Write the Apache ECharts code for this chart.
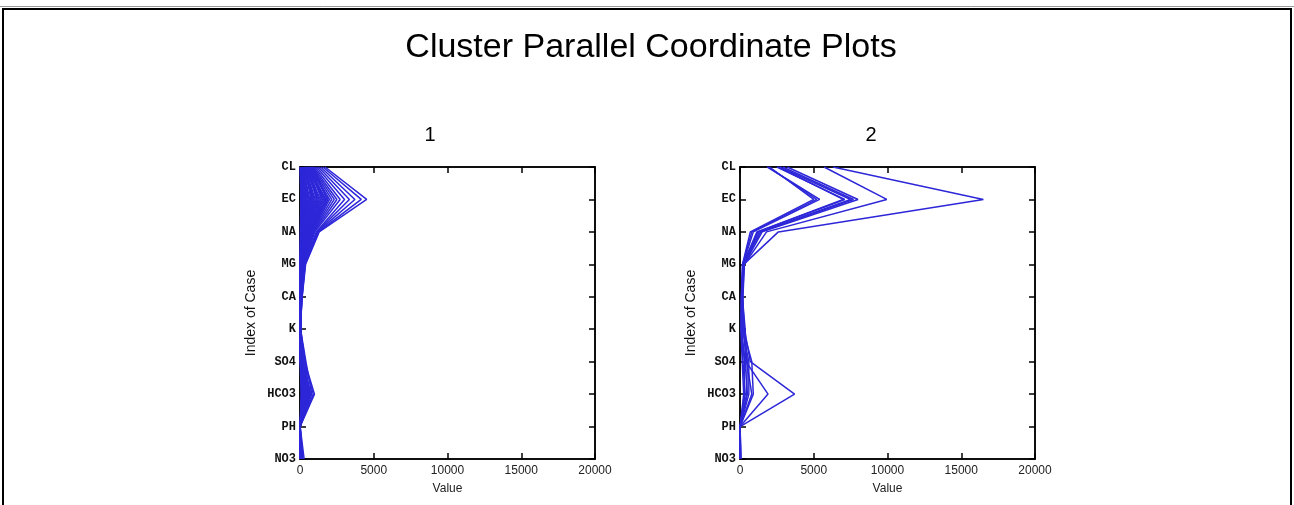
<!DOCTYPE html>
<html>
<head>
<meta charset="utf-8">
<script src="https://cdn.jsdelivr.net/npm/echarts@6/dist/echarts.min.js"></script>
<style>
html,body{margin:0;padding:0;background:#fff;}
#chart{width:1294px;height:505px;}
</style>
</head>
<body>
<div id="chart"></div>
<script>
// Variables (axis categories, top to bottom)
const variables = ['CL','EC','NA','MG','CA','K','SO4','HCO3','PH','NO3'];
const xTicks = [0, 5000, 10000, 15000, 20000];

// Cluster 1: one array per variable, one entry per case
const c1_CL   = [1700,1550,1400,1250,1120,1000,900,820,760,700,650,900,600,560,540,500,800,450,420,400,380,650,330,300,280,260,240,500,200,180,160,140,120,100,90,70,60,50,40,30,20,15];
const c1_EC   = [4520,4150,3720,3350,3020,2720,2500,2320,2150,2000,1900,1820,1750,1680,1600,1520,1450,1380,1300,1230,1160,1100,1030,960,900,840,780,720,660,600,540,480,420,370,320,270,220,180,140,110,80,60];
const c1_NA   = [1300,1250,1200,1150,1100,1000,950,900,860,820,780,750,720,680,650,620,600,560,530,500,480,450,420,400,380,350,320,300,280,250,220,200,180,160,140,120,100,80,60,50,40,30];
const c1_MG   = [380,350,330,300,280,260,250,240,230,220,210,200,190,180,170,160,150,140,130,120,115,110,100,95,90,85,80,75,70,65,60,55,50,45,40,35,30,25,20,15,12,10];
const c1_CA   = [150,140,130,120,110,100,95,90,85,80,75,70,68,65,60,58,55,52,50,48,45,42,40,38,35,32,30,28,25,22,20,18,16,14,12,10,9,8,7,6,5,4];
const c1_K    = [12,20,8,35,15,25,10,40,18,30,22,9,14,50,11,16,27,7,33,13,19,24,6,45,10,17,21,8,12,28,5,15,9,11,20,6,14,7,10,4,8,3];
const c1_SO4  = [250,320,180,400,210,150,280,120,350,190,90,260,140,300,110,220,170,80,240,130,200,60,160,100,270,70,190,120,50,150,90,40,110,60,130,30,80,45,20,60,25,15];
const c1_HCO3 = [650,980,520,800,700,450,900,600,550,750,400,680,500,620,350,580,480,720,300,530,440,600,380,250,500,420,330,460,280,200,390,350,240,310,180,270,150,220,120,100,160,80];
const c1_PH   = [7.2,7.5,7.8,7.1,7.4,7.6,7.0,7.3,7.9,7.2,7.5,7.7,7.1,7.4,7.6,7.3,7.8,7.0,7.2,7.5,7.4,7.6,7.1,7.3,7.9,7.2,7.5,7.7,7.1,7.4,7.6,7.3,7.8,7.0,7.2,7.5,7.4,7.6,7.1,7.3,7.9,7.2];
const c1_NO3  = [20,50,10,120,35,5,80,15,200,40,8,60,25,150,12,30,90,18,45,6,70,22,10,280,14,55,9,33,100,4,40,16,65,11,27,7,50,19,3,38,12,8];

// Cluster 2
const c2_CL   = [6300,5700,3200,2900,2700,2500,2600,1850,1900,2000];
const c2_EC   = [16500,9950,8000,7700,7500,7100,7000,5400,5200,5000];
const c2_NA   = [2600,1800,1500,1400,1300,1200,1150,900,800,700];
const c2_MG   = [250,300,280,260,240,220,200,200,180,170];
const c2_CA   = [150,200,180,160,140,120,130,110,100,90];
const c2_K    = [300,250,200,350,150,100,250,120,80,60];
const c2_SO4  = [700,400,800,450,600,350,500,200,300,150];
const c2_HCO3 = [3700,1900,900,800,600,500,450,350,300,250];
const c2_PH   = [7.2,7.5,7.1,7.8,7.3,7.4,7.6,7.0,7.9,7.2];
const c2_NO3  = [50,30,20,40,10,30,20,60,15,25];

const cluster1 = [c1_CL,c1_EC,c1_NA,c1_MG,c1_CA,c1_K,c1_SO4,c1_HCO3,c1_PH,c1_NO3];
const cluster2 = [c2_CL,c2_EC,c2_NA,c2_MG,c2_CA,c2_K,c2_SO4,c2_HCO3,c2_PH,c2_NO3];

const LINE = '#2d27d8';
const FONT = 'Liberation Sans, Arial, sans-serif';

const chart = echarts.init(document.getElementById('chart'), null, {renderer:'canvas'});

const grids = [
  {left:300, right:699, top:167, bottom:46},
  {left:740, right:259, top:167, bottom:46}
];

const tickStyle = {show:true, inside:true, length:6, lineStyle:{color:'#000', width:1.5}};

const xAxes = [], yAxes = [], series = [];
grids.forEach((g, gi) => {
  g.show = true; g.borderColor = '#000'; g.borderWidth = 1.5; g.backgroundColor = '#fff';
  g.containLabel = false;
  xAxes.push({
    gridIndex: gi, type:'value', position:'bottom', min:xTicks[0], max:xTicks[xTicks.length-1], interval:5000,
    axisLine:{show:true, onZero:false, lineStyle:{color:'#000', width:1.5}},
    axisTick:tickStyle,
    axisLabel:{show:true, color:'#222', fontSize:12, fontFamily:FONT, margin:6, formatter: v => String(v)},
    splitLine:{show:false},
    name:'Value', nameLocation:'middle', nameGap:24,
    nameTextStyle:{color:'#222', fontSize:12, fontFamily:FONT}
  });
  xAxes.push({
    gridIndex: gi, type:'value', position:'top', min:xTicks[0], max:xTicks[xTicks.length-1], interval:5000,
    axisLine:{show:true, onZero:false, lineStyle:{color:'#000', width:1.5}},
    axisTick:tickStyle,
    axisLabel:{show:false}, splitLine:{show:false}
  });
  yAxes.push({
    gridIndex: gi, type:'category', data: variables, inverse:true, boundaryGap:false, position:'left',
    axisLine:{show:true, onZero:false, lineStyle:{color:'#000', width:1.5}},
    axisTick:{show:true, inside:true, length:6, alignWithLabel:true, lineStyle:{color:'#000', width:1.5}},
    axisLabel:{show:true, color:'#111', fontSize:12, fontWeight:'bold', fontFamily:'Liberation Mono, DejaVu Sans Mono, monospace', margin:4},
    splitLine:{show:false},
    name:'Index of Case', nameLocation:'middle', nameGap:42, nameRotate:90,
    nameTextStyle:{color:'#111', fontSize:14, fontFamily:FONT}
  });
  yAxes.push({
    gridIndex: gi, type:'category', data: variables, inverse:true, boundaryGap:false, position:'right',
    axisLine:{show:true, onZero:false, lineStyle:{color:'#000', width:1.5}},
    axisTick:tickStyle,
    axisLabel:{show:false}, splitLine:{show:false}
  });
});

function addCluster(cols, gi) {
  const n = cols[0].length;
  for (let i = 0; i < n; i++) {
    series.push({
      type:'line', xAxisIndex: gi*2, yAxisIndex: gi*2,
      data: variables.map((v, j) => [cols[j][i], v]),
      symbol:'none', silent:true, animation:false, z:1,
      lineStyle:{color:LINE, width:1.5}
    });
  }
}
addCluster(cluster1, 0);
addCluster(cluster2, 1);

chart.setOption({
  backgroundColor:'#fff',
  animation:false,
  title:[
    {text:'Cluster Parallel Coordinate Plots', left:646, top:26, textAlign:'center',
     textStyle:{fontSize:34, fontWeight:'normal', color:'#000', fontFamily:FONT}},
    {text:'1', left:425, top:120, textAlign:'center',
     textStyle:{fontSize:20, fontWeight:'normal', color:'#000', fontFamily:FONT}},
    {text:'2', left:866, top:120, textAlign:'center',
     textStyle:{fontSize:20, fontWeight:'normal', color:'#000', fontFamily:FONT}}
  ],
  graphic:[
    {type:'line', shape:{x1:0, y1:6.5, x2:1294, y2:6.5}, style:{stroke:'#999', lineWidth:1}, silent:true},
    {type:'rect', shape:{x:3, y:9, width:1288, height:520}, style:{fill:null, stroke:'#000', lineWidth:2}, silent:true}
  ],
  grid: grids,
  xAxis: xAxes,
  yAxis: yAxes,
  series: series
});
</script>
</body>
</html>
